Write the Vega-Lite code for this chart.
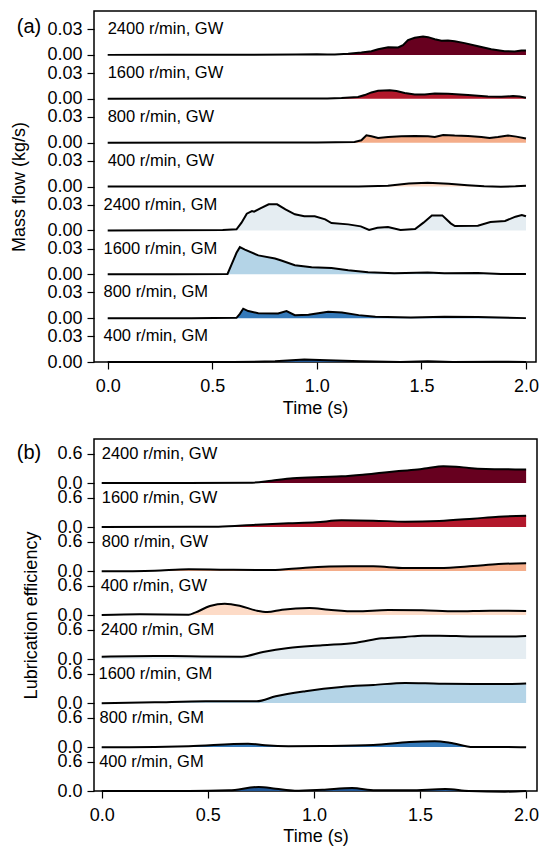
{
  "$schema": "https://vega.github.io/schema/vega-lite/v6.json",
  "background": "white",
  "padding": {"left": 10, "top": 10, "right": 5, "bottom": 5},
  "spacing": 20,
  "config": {
    "font": "Liberation Sans",
    "view": {"stroke": "black", "strokeWidth": 1.5},
    "axis": {"labelFont": "Liberation Sans", "titleFont": "Liberation Sans", "labelColor": "black", "titleColor": "black", "tickColor": "black", "labelFontSize": 18, "titleFontSize": 18, "titleFontWeight": "normal", "tickSize": 7, "tickWidth": 1.2, "grid": false, "domain": false},
    "text": {"font": "Liberation Sans", "color": "black"}
  },
  "datasets": {
    "a": [
      {"s":"2400 r/min, GW","t":0,"v":0},{"s":"2400 r/min, GW","t":0.3,"v":0.0002},{"s":"2400 r/min, GW","t":0.6,"v":0.0002},{"s":"2400 r/min, GW","t":0.9,"v":0.0003},{"s":"2400 r/min, GW","t":1.0,"v":0.0006},{"s":"2400 r/min, GW","t":1.05,"v":0.0004},{"s":"2400 r/min, GW","t":1.086,"v":0.0004},{"s":"2400 r/min, GW","t":1.15,"v":0.0012},{"s":"2400 r/min, GW","t":1.213,"v":0.0027},{"s":"2400 r/min, GW","t":1.261,"v":0.0043},{"s":"2400 r/min, GW","t":1.293,"v":0.0066},{"s":"2400 r/min, GW","t":1.341,"v":0.009},{"s":"2400 r/min, GW","t":1.389,"v":0.0086},{"s":"2400 r/min, GW","t":1.412,"v":0.0113},{"s":"2400 r/min, GW","t":1.436,"v":0.0172},{"s":"2400 r/min, GW","t":1.468,"v":0.0199},{"s":"2400 r/min, GW","t":1.508,"v":0.0214},{"s":"2400 r/min, GW","t":1.532,"v":0.0207},{"s":"2400 r/min, GW","t":1.564,"v":0.0183},{"s":"2400 r/min, GW","t":1.596,"v":0.0164},{"s":"2400 r/min, GW","t":1.627,"v":0.0168},{"s":"2400 r/min, GW","t":1.659,"v":0.016},{"s":"2400 r/min, GW","t":1.707,"v":0.0137},{"s":"2400 r/min, GW","t":1.771,"v":0.0101},{"s":"2400 r/min, GW","t":1.834,"v":0.0066},{"s":"2400 r/min, GW","t":1.898,"v":0.0043},{"s":"2400 r/min, GW","t":1.946,"v":0.0039},{"s":"2400 r/min, GW","t":1.978,"v":0.0051},{"s":"2400 r/min, GW","t":2.0,"v":0.0051},
      {"s":"1600 r/min, GW","t":0,"v":0},{"s":"1600 r/min, GW","t":0.5,"v":0.0002},{"s":"1600 r/min, GW","t":0.83,"v":0.0004},{"s":"1600 r/min, GW","t":1.05,"v":0.0004},{"s":"1600 r/min, GW","t":1.118,"v":0.0008},{"s":"1600 r/min, GW","t":1.197,"v":0.002},{"s":"1600 r/min, GW","t":1.229,"v":0.0043},{"s":"1600 r/min, GW","t":1.261,"v":0.0074},{"s":"1600 r/min, GW","t":1.293,"v":0.0094},{"s":"1600 r/min, GW","t":1.349,"v":0.0098},{"s":"1600 r/min, GW","t":1.381,"v":0.009},{"s":"1600 r/min, GW","t":1.42,"v":0.0066},{"s":"1600 r/min, GW","t":1.468,"v":0.0051},{"s":"1600 r/min, GW","t":1.516,"v":0.0051},{"s":"1600 r/min, GW","t":1.564,"v":0.0062},{"s":"1600 r/min, GW","t":1.627,"v":0.0059},{"s":"1600 r/min, GW","t":1.723,"v":0.0043},{"s":"1600 r/min, GW","t":1.818,"v":0.0027},{"s":"1600 r/min, GW","t":1.882,"v":0.0023},{"s":"1600 r/min, GW","t":1.938,"v":0.0031},{"s":"1600 r/min, GW","t":1.97,"v":0.0027},{"s":"1600 r/min, GW","t":2.0,"v":0.0012},
      {"s":"800 r/min, GW","t":0,"v":0},{"s":"800 r/min, GW","t":0.6,"v":0.0001},{"s":"800 r/min, GW","t":1.0,"v":0.0002},{"s":"800 r/min, GW","t":1.18,"v":0.0008},{"s":"800 r/min, GW","t":1.213,"v":0.0027},{"s":"800 r/min, GW","t":1.237,"v":0.0086},{"s":"800 r/min, GW","t":1.261,"v":0.0074},{"s":"800 r/min, GW","t":1.293,"v":0.0055},{"s":"800 r/min, GW","t":1.341,"v":0.0066},{"s":"800 r/min, GW","t":1.404,"v":0.0074},{"s":"800 r/min, GW","t":1.468,"v":0.0078},{"s":"800 r/min, GW","t":1.532,"v":0.0074},{"s":"800 r/min, GW","t":1.564,"v":0.0066},{"s":"800 r/min, GW","t":1.604,"v":0.009},{"s":"800 r/min, GW","t":1.659,"v":0.0082},{"s":"800 r/min, GW","t":1.723,"v":0.0078},{"s":"800 r/min, GW","t":1.787,"v":0.0066},{"s":"800 r/min, GW","t":1.826,"v":0.0055},{"s":"800 r/min, GW","t":1.866,"v":0.0066},{"s":"800 r/min, GW","t":1.914,"v":0.0082},{"s":"800 r/min, GW","t":1.954,"v":0.007},{"s":"800 r/min, GW","t":2.0,"v":0.0047},
      {"s":"400 r/min, GW","t":0,"v":0},{"s":"400 r/min, GW","t":0.6,"v":0},{"s":"400 r/min, GW","t":1.2,"v":0.0001},{"s":"400 r/min, GW","t":1.34,"v":0.0008},{"s":"400 r/min, GW","t":1.44,"v":0.0035},{"s":"400 r/min, GW","t":1.53,"v":0.0043},{"s":"400 r/min, GW","t":1.63,"v":0.0031},{"s":"400 r/min, GW","t":1.72,"v":0.0016},{"s":"400 r/min, GW","t":1.8,"v":0.0002},{"s":"400 r/min, GW","t":1.88,"v":-0.0002},{"s":"400 r/min, GW","t":1.95,"v":0.0002},{"s":"400 r/min, GW","t":2.0,"v":0.0008},
      {"s":"2400 r/min, GM","t":0,"v":0},{"s":"2400 r/min, GM","t":0.3,"v":0.0001},{"s":"2400 r/min, GM","t":0.55,"v":0.0003},{"s":"2400 r/min, GM","t":0.616,"v":0.0012},{"s":"2400 r/min, GM","t":0.64,"v":0.009},{"s":"2400 r/min, GM","t":0.665,"v":0.0195},{"s":"2400 r/min, GM","t":0.69,"v":0.0226},{"s":"2400 r/min, GM","t":0.7,"v":0.0218},{"s":"2400 r/min, GM","t":0.73,"v":0.0257},{"s":"2400 r/min, GM","t":0.77,"v":0.0304},{"s":"2400 r/min, GM","t":0.81,"v":0.0304},{"s":"2400 r/min, GM","t":0.85,"v":0.0246},{"s":"2400 r/min, GM","t":0.895,"v":0.0187},{"s":"2400 r/min, GM","t":0.94,"v":0.0164},{"s":"2400 r/min, GM","t":0.99,"v":0.0164},{"s":"2400 r/min, GM","t":1.04,"v":0.0129},{"s":"2400 r/min, GM","t":1.07,"v":0.0086},{"s":"2400 r/min, GM","t":1.15,"v":0.007},{"s":"2400 r/min, GM","t":1.21,"v":0.0047},{"s":"2400 r/min, GM","t":1.25,"v":0.0004},{"s":"2400 r/min, GM","t":1.29,"v":0.0031},{"s":"2400 r/min, GM","t":1.34,"v":0.0039},{"s":"2400 r/min, GM","t":1.4,"v":0.0004},{"s":"2400 r/min, GM","t":1.47,"v":0.0016},{"s":"2400 r/min, GM","t":1.51,"v":0.009},{"s":"2400 r/min, GM","t":1.55,"v":0.0175},{"s":"2400 r/min, GM","t":1.6,"v":0.0175},{"s":"2400 r/min, GM","t":1.64,"v":0.0082},{"s":"2400 r/min, GM","t":1.66,"v":0.005},{"s":"2400 r/min, GM","t":1.77,"v":0.0055},{"s":"2400 r/min, GM","t":1.83,"v":0.0098},{"s":"2400 r/min, GM","t":1.9,"v":0.011},{"s":"2400 r/min, GM","t":1.95,"v":0.016},{"s":"2400 r/min, GM","t":1.98,"v":0.018},{"s":"2400 r/min, GM","t":2.0,"v":0.0164},
      {"s":"1600 r/min, GM","t":0,"v":0},{"s":"1600 r/min, GM","t":0.3,"v":0},{"s":"1600 r/min, GM","t":0.573,"v":0.0004},{"s":"1600 r/min, GM","t":0.592,"v":0.0113},{"s":"1600 r/min, GM","t":0.616,"v":0.025},{"s":"1600 r/min, GM","t":0.632,"v":0.0316},{"s":"1600 r/min, GM","t":0.656,"v":0.0288},{"s":"1600 r/min, GM","t":0.72,"v":0.022},{"s":"1600 r/min, GM","t":0.8,"v":0.0183},{"s":"1600 r/min, GM","t":0.83,"v":0.016},{"s":"1600 r/min, GM","t":0.895,"v":0.0105},{"s":"1600 r/min, GM","t":0.975,"v":0.0082},{"s":"1600 r/min, GM","t":1.07,"v":0.0074},{"s":"1600 r/min, GM","t":1.15,"v":0.0047},{"s":"1600 r/min, GM","t":1.245,"v":0.0023},{"s":"1600 r/min, GM","t":1.37,"v":0.0012},{"s":"1600 r/min, GM","t":1.53,"v":0.002},{"s":"1600 r/min, GM","t":1.61,"v":0.0012},{"s":"1600 r/min, GM","t":1.77,"v":0.0016},{"s":"1600 r/min, GM","t":1.88,"v":0.0004},{"s":"1600 r/min, GM","t":2.0,"v":0.0004},
      {"s":"800 r/min, GM","t":0,"v":0},{"s":"800 r/min, GM","t":0.4,"v":0},{"s":"800 r/min, GM","t":0.616,"v":0.0004},{"s":"800 r/min, GM","t":0.632,"v":0.005},{"s":"800 r/min, GM","t":0.648,"v":0.011},{"s":"800 r/min, GM","t":0.672,"v":0.0082},{"s":"800 r/min, GM","t":0.72,"v":0.0058},{"s":"800 r/min, GM","t":0.815,"v":0.0055},{"s":"800 r/min, GM","t":0.855,"v":0.0082},{"s":"800 r/min, GM","t":0.895,"v":0.0035},{"s":"800 r/min, GM","t":0.96,"v":0.004},{"s":"800 r/min, GM","t":1.054,"v":0.0074},{"s":"800 r/min, GM","t":1.12,"v":0.0066},{"s":"800 r/min, GM","t":1.2,"v":0.0035},{"s":"800 r/min, GM","t":1.28,"v":0.0016},{"s":"800 r/min, GM","t":1.45,"v":0.0008},{"s":"800 r/min, GM","t":1.61,"v":0.0016},{"s":"800 r/min, GM","t":1.77,"v":0.0012},{"s":"800 r/min, GM","t":2.0,"v":0},
      {"s":"400 r/min, GM","t":0,"v":0},{"s":"400 r/min, GM","t":0.6,"v":0},{"s":"400 r/min, GM","t":0.8,"v":0.0008},{"s":"400 r/min, GM","t":0.94,"v":0.003},{"s":"400 r/min, GM","t":1.05,"v":0.002},{"s":"400 r/min, GM","t":1.21,"v":0.0008},{"s":"400 r/min, GM","t":1.4,"v":0},{"s":"400 r/min, GM","t":1.53,"v":0.0008},{"s":"400 r/min, GM","t":1.65,"v":0},{"s":"400 r/min, GM","t":1.85,"v":0.0004},{"s":"400 r/min, GM","t":2.0,"v":0}
    ],
    "b": [
      {"s":"2400 r/min, GW","t":0,"v":0},{"s":"2400 r/min, GW","t":0.4,"v":0},{"s":"2400 r/min, GW","t":0.71,"v":0.007},{"s":"2400 r/min, GW","t":0.8,"v":0.048},{"s":"2400 r/min, GW","t":0.9,"v":0.095},{"s":"2400 r/min, GW","t":1.04,"v":0.123},{"s":"2400 r/min, GW","t":1.13,"v":0.136},{"s":"2400 r/min, GW","t":1.23,"v":0.17},{"s":"2400 r/min, GW","t":1.32,"v":0.21},{"s":"2400 r/min, GW","t":1.4,"v":0.245},{"s":"2400 r/min, GW","t":1.5,"v":0.28},{"s":"2400 r/min, GW","t":1.54,"v":0.307},{"s":"2400 r/min, GW","t":1.61,"v":0.34},{"s":"2400 r/min, GW","t":1.67,"v":0.334},{"s":"2400 r/min, GW","t":1.73,"v":0.307},{"s":"2400 r/min, GW","t":1.81,"v":0.286},{"s":"2400 r/min, GW","t":1.9,"v":0.28},{"s":"2400 r/min, GW","t":2.0,"v":0.273},
      {"s":"1600 r/min, GW","t":0,"v":0},{"s":"1600 r/min, GW","t":0.55,"v":0.007},{"s":"1600 r/min, GW","t":0.73,"v":0.048},{"s":"1600 r/min, GW","t":0.88,"v":0.075},{"s":"1600 r/min, GW","t":1.01,"v":0.095},{"s":"1600 r/min, GW","t":1.13,"v":0.136},{"s":"1600 r/min, GW","t":1.28,"v":0.13},{"s":"1600 r/min, GW","t":1.43,"v":0.109},{"s":"1600 r/min, GW","t":1.59,"v":0.123},{"s":"1600 r/min, GW","t":1.75,"v":0.17},{"s":"1600 r/min, GW","t":1.87,"v":0.21},{"s":"1600 r/min, GW","t":2.0,"v":0.232},
      {"s":"800 r/min, GW","t":0,"v":-0.007},{"s":"800 r/min, GW","t":0.25,"v":0.007},{"s":"800 r/min, GW","t":0.41,"v":0.034},{"s":"800 r/min, GW","t":0.57,"v":0.027},{"s":"800 r/min, GW","t":0.8,"v":0.02},{"s":"800 r/min, GW","t":0.96,"v":0.068},{"s":"800 r/min, GW","t":1.17,"v":0.095},{"s":"800 r/min, GW","t":1.28,"v":0.095},{"s":"800 r/min, GW","t":1.43,"v":0.061},{"s":"800 r/min, GW","t":1.59,"v":0.061},{"s":"800 r/min, GW","t":1.75,"v":0.102},{"s":"800 r/min, GW","t":1.87,"v":0.143},{"s":"800 r/min, GW","t":2.0,"v":0.157},
      {"s":"400 r/min, GW","t":0,"v":0},{"s":"400 r/min, GW","t":0.18,"v":0.014},{"s":"400 r/min, GW","t":0.41,"v":0.007},{"s":"400 r/min, GW","t":0.44,"v":0.048},{"s":"400 r/min, GW","t":0.51,"v":0.184},{"s":"400 r/min, GW","t":0.58,"v":0.232},{"s":"400 r/min, GW","t":0.65,"v":0.19},{"s":"400 r/min, GW","t":0.73,"v":0.089},{"s":"400 r/min, GW","t":0.78,"v":0.061},{"s":"400 r/min, GW","t":0.85,"v":0.109},{"s":"400 r/min, GW","t":0.98,"v":0.143},{"s":"400 r/min, GW","t":1.07,"v":0.109},{"s":"400 r/min, GW","t":1.2,"v":0.075},{"s":"400 r/min, GW","t":1.35,"v":0.102},{"s":"400 r/min, GW","t":1.51,"v":0.095},{"s":"400 r/min, GW","t":1.67,"v":0.075},{"s":"400 r/min, GW","t":1.83,"v":0.089},{"s":"400 r/min, GW","t":2.0,"v":0.082},
      {"s":"2400 r/min, GM","t":0,"v":0.048},{"s":"2400 r/min, GM","t":0.25,"v":0.061},{"s":"2400 r/min, GM","t":0.41,"v":0.055},{"s":"2400 r/min, GM","t":0.66,"v":0.048},{"s":"2400 r/min, GM","t":0.76,"v":0.143},{"s":"2400 r/min, GM","t":0.88,"v":0.225},{"s":"2400 r/min, GM","t":1.04,"v":0.28},{"s":"2400 r/min, GM","t":1.2,"v":0.334},{"s":"2400 r/min, GM","t":1.32,"v":0.423},{"s":"2400 r/min, GM","t":1.43,"v":0.45},{"s":"2400 r/min, GM","t":1.51,"v":0.477},{"s":"2400 r/min, GM","t":1.59,"v":0.477},{"s":"2400 r/min, GM","t":1.75,"v":0.457},{"s":"2400 r/min, GM","t":1.9,"v":0.457},{"s":"2400 r/min, GM","t":2.0,"v":0.47},
      {"s":"1600 r/min, GM","t":0,"v":-0.007},{"s":"1600 r/min, GM","t":0.25,"v":0.014},{"s":"1600 r/min, GM","t":0.49,"v":0.034},{"s":"1600 r/min, GM","t":0.73,"v":0.034},{"s":"1600 r/min, GM","t":0.82,"v":0.136},{"s":"1600 r/min, GM","t":0.96,"v":0.24},{"s":"1600 r/min, GM","t":1.13,"v":0.327},{"s":"1600 r/min, GM","t":1.28,"v":0.368},{"s":"1600 r/min, GM","t":1.43,"v":0.41},{"s":"1600 r/min, GM","t":1.59,"v":0.395},{"s":"1600 r/min, GM","t":1.75,"v":0.389},{"s":"1600 r/min, GM","t":1.9,"v":0.389},{"s":"1600 r/min, GM","t":2.0,"v":0.4},
      {"s":"800 r/min, GM","t":0,"v":-0.007},{"s":"800 r/min, GM","t":0.25,"v":0},{"s":"800 r/min, GM","t":0.41,"v":0.014},{"s":"800 r/min, GM","t":0.69,"v":0.068},{"s":"800 r/min, GM","t":0.77,"v":0.034},{"s":"800 r/min, GM","t":0.88,"v":0.014},{"s":"800 r/min, GM","t":1.04,"v":0.02},{"s":"800 r/min, GM","t":1.28,"v":0.041},{"s":"800 r/min, GM","t":1.45,"v":0.102},{"s":"800 r/min, GM","t":1.57,"v":0.116},{"s":"800 r/min, GM","t":1.64,"v":0.089},{"s":"800 r/min, GM","t":1.75,"v":0},{"s":"800 r/min, GM","t":1.9,"v":0},{"s":"800 r/min, GM","t":2.0,"v":-0.007},
      {"s":"400 r/min, GM","t":0,"v":0},{"s":"400 r/min, GM","t":0.41,"v":0},{"s":"400 r/min, GM","t":0.6,"v":0.014},{"s":"400 r/min, GM","t":0.74,"v":0.082},{"s":"400 r/min, GM","t":0.82,"v":0.048},{"s":"400 r/min, GM","t":0.91,"v":0.007},{"s":"400 r/min, GM","t":1.04,"v":0.027},{"s":"400 r/min, GM","t":1.18,"v":0.061},{"s":"400 r/min, GM","t":1.29,"v":0.014},{"s":"400 r/min, GM","t":1.45,"v":0.014},{"s":"400 r/min, GM","t":1.62,"v":0.041},{"s":"400 r/min, GM","t":1.73,"v":0},{"s":"400 r/min, GM","t":1.9,"v":-0.014},{"s":"400 r/min, GM","t":2.0,"v":0}
    ]
  },
  "vconcat": [
    {
      "width": 442,
      "height": 351,
      "data": {"name": "a"},
      "encoding": {
        "x": {"field": "t", "type": "quantitative", "scale": {"domain": [-0.0655, 2.048], "nice": false, "zero": false}, "axis": {"values": [0, 0.5, 1, 1.5, 2], "format": ".1f", "title": "Time (s)", "labelPadding": 8, "titlePadding": 4, "labelFlush": false}}
      },
      "layer": [
        {"transform": [{"filter": {"field": "s", "equal": "2400 r/min, GW"}}],
         "encoding": {"y": {"field": "v", "type": "quantitative", "stack": null, "scale": {"domain": [-0.3584, 0.0512], "nice": false, "zero": false}, "axis": {"orient": "left", "values": [0, 0.03], "format": ".2f", "title": "Mass flow (kg/s)", "titlePadding": 18, "labelPadding": 5}}},
         "layer": [
           {"mark": {"type": "area", "color": "#67001f", "opacity": 1}},
           {"mark": {"type": "line", "color": "black", "strokeWidth": 2}},
           {"transform": [{"filter": {"field": "t", "equal": 0}}], "mark": {"type": "text", "align": "left", "baseline": "middle", "fontSize": 16.5, "color": "black"}, "encoding": {"text": {"field": "s"}, "x": {"datum": 0, "type": "quantitative"}, "y": {"datum": 0.03, "type": "quantitative"}}},
           {"transform": [{"filter": {"field": "t", "equal": 0}}], "mark": {"type": "text", "text": "(a)", "align": "right", "baseline": "middle", "fontSize": 20, "color": "black"}, "encoding": {"x": {"datum": -0.318, "type": "quantitative"}, "y": {"datum": 0.033, "type": "quantitative"}}}
         ]},
        {"transform": [{"filter": {"field": "s", "equal": "1600 r/min, GW"}}],
         "encoding": {"y": {"field": "v", "type": "quantitative", "stack": null, "scale": {"domain": [-0.3072, 0.1024], "nice": false, "zero": false}, "axis": {"orient": "left", "values": [0, 0.03], "format": ".2f", "title": null, "labelPadding": 5}}},
         "layer": [
           {"mark": {"type": "area", "color": "#b2182b", "opacity": 1}},
           {"mark": {"type": "line", "color": "black", "strokeWidth": 2}},
           {"transform": [{"filter": {"field": "t", "equal": 0}}], "mark": {"type": "text", "align": "left", "baseline": "middle", "fontSize": 16.5, "color": "black"}, "encoding": {"text": {"field": "s"}, "x": {"datum": 0, "type": "quantitative"}, "y": {"datum": 0.03, "type": "quantitative"}}}
         ]},
        {"transform": [{"filter": {"field": "s", "equal": "800 r/min, GW"}}],
         "encoding": {"y": {"field": "v", "type": "quantitative", "stack": null, "scale": {"domain": [-0.256, 0.1536], "nice": false, "zero": false}, "axis": {"orient": "left", "values": [0, 0.03], "format": ".2f", "title": null, "labelPadding": 5}}},
         "layer": [
           {"mark": {"type": "area", "color": "#f4ad8a", "opacity": 1}},
           {"mark": {"type": "line", "color": "black", "strokeWidth": 2}},
           {"transform": [{"filter": {"field": "t", "equal": 0}}], "mark": {"type": "text", "align": "left", "baseline": "middle", "fontSize": 16.5, "color": "black"}, "encoding": {"text": {"field": "s"}, "x": {"datum": 0, "type": "quantitative"}, "y": {"datum": 0.03, "type": "quantitative"}}}
         ]},
        {"transform": [{"filter": {"field": "s", "equal": "400 r/min, GW"}}],
         "encoding": {"y": {"field": "v", "type": "quantitative", "stack": null, "scale": {"domain": [-0.2048, 0.2048], "nice": false, "zero": false}, "axis": {"orient": "left", "values": [0, 0.03], "format": ".2f", "title": null, "labelPadding": 5}}},
         "layer": [
           {"mark": {"type": "area", "color": "#fddbc7", "opacity": 1}},
           {"mark": {"type": "line", "color": "black", "strokeWidth": 2}},
           {"transform": [{"filter": {"field": "t", "equal": 0}}], "mark": {"type": "text", "align": "left", "baseline": "middle", "fontSize": 16.5, "color": "black"}, "encoding": {"text": {"field": "s"}, "x": {"datum": 0, "type": "quantitative"}, "y": {"datum": 0.03, "type": "quantitative"}}}
         ]},
        {"transform": [{"filter": {"field": "s", "equal": "2400 r/min, GM"}}],
         "encoding": {"y": {"field": "v", "type": "quantitative", "stack": null, "scale": {"domain": [-0.1536, 0.256], "nice": false, "zero": false}, "axis": {"orient": "left", "values": [0, 0.03], "format": ".2f", "title": null, "labelPadding": 5}}},
         "layer": [
           {"mark": {"type": "area", "color": "#e5edf2", "opacity": 1}},
           {"mark": {"type": "line", "color": "black", "strokeWidth": 2}},
           {"transform": [{"filter": {"field": "t", "equal": 0}}], "mark": {"type": "text", "align": "left", "baseline": "middle", "fontSize": 16.5, "color": "black"}, "encoding": {"text": {"field": "s"}, "x": {"datum": -0.02, "type": "quantitative"}, "y": {"datum": 0.03, "type": "quantitative"}}}
         ]},
        {"transform": [{"filter": {"field": "s", "equal": "1600 r/min, GM"}}],
         "encoding": {"y": {"field": "v", "type": "quantitative", "stack": null, "scale": {"domain": [-0.1024, 0.3072], "nice": false, "zero": false}, "axis": {"orient": "left", "values": [0, 0.03], "format": ".2f", "title": null, "labelPadding": 5}}},
         "layer": [
           {"mark": {"type": "area", "color": "#b4d4e7", "opacity": 1}},
           {"mark": {"type": "line", "color": "black", "strokeWidth": 2}},
           {"transform": [{"filter": {"field": "t", "equal": 0}}], "mark": {"type": "text", "align": "left", "baseline": "middle", "fontSize": 16.5, "color": "black"}, "encoding": {"text": {"field": "s"}, "x": {"datum": -0.02, "type": "quantitative"}, "y": {"datum": 0.03, "type": "quantitative"}}}
         ]},
        {"transform": [{"filter": {"field": "s", "equal": "800 r/min, GM"}}],
         "encoding": {"y": {"field": "v", "type": "quantitative", "stack": null, "scale": {"domain": [-0.0512, 0.3584], "nice": false, "zero": false}, "axis": {"orient": "left", "values": [0, 0.03], "format": ".2f", "title": null, "labelPadding": 5}}},
         "layer": [
           {"mark": {"type": "area", "color": "#3479b9", "opacity": 1}},
           {"mark": {"type": "line", "color": "black", "strokeWidth": 2}},
           {"transform": [{"filter": {"field": "t", "equal": 0}}], "mark": {"type": "text", "align": "left", "baseline": "middle", "fontSize": 16.5, "color": "black"}, "encoding": {"text": {"field": "s"}, "x": {"datum": -0.02, "type": "quantitative"}, "y": {"datum": 0.03, "type": "quantitative"}}}
         ]},
        {"transform": [{"filter": {"field": "s", "equal": "400 r/min, GM"}}],
         "encoding": {"y": {"field": "v", "type": "quantitative", "stack": null, "scale": {"domain": [0, 0.4096], "nice": false, "zero": false}, "axis": {"orient": "left", "values": [0, 0.03], "format": ".2f", "title": null, "labelPadding": 5}}},
         "layer": [
           {"mark": {"type": "area", "color": "#1f5595", "opacity": 1}},
           {"mark": {"type": "line", "color": "black", "strokeWidth": 2}},
           {"transform": [{"filter": {"field": "t", "equal": 0}}], "mark": {"type": "text", "align": "left", "baseline": "middle", "fontSize": 16.5, "color": "black"}, "encoding": {"text": {"field": "s"}, "x": {"datum": -0.02, "type": "quantitative"}, "y": {"datum": 0.03, "type": "quantitative"}}}
         ]}
      ],
      "resolve": {"scale": {"y": "independent"}, "axis": {"y": "independent"}}
    },
    {
      "width": 443,
      "height": 352,
      "data": {"name": "b"},
      "encoding": {
        "x": {"field": "t", "type": "quantitative", "scale": {"domain": [-0.0363, 2.0513], "nice": false, "zero": false}, "axis": {"values": [0, 0.5, 1, 1.5, 2], "format": ".1f", "title": "Time (s)", "labelPadding": 8, "titlePadding": 3, "labelFlush": false}}
      },
      "layer": [
        {"transform": [{"filter": {"field": "s", "equal": "2400 r/min, GW"}}],
         "encoding": {"y": {"field": "v", "type": "quantitative", "stack": null, "scale": {"domain": [-6.286, 0.898], "nice": false, "zero": false}, "axis": {"orient": "left", "values": [0, 0.6], "format": ".1f", "title": "Lubrication efficiency", "titlePadding": 16, "labelPadding": 5}}},
         "layer": [
           {"mark": {"type": "area", "color": "#67001f", "opacity": 1, "interpolate": "monotone"}},
           {"mark": {"type": "line", "color": "black", "strokeWidth": 2, "interpolate": "monotone"}},
           {"transform": [{"filter": {"field": "t", "equal": 0}}], "mark": {"type": "text", "align": "left", "baseline": "middle", "fontSize": 16.5, "color": "black"}, "encoding": {"text": {"field": "s"}, "x": {"datum": 0, "type": "quantitative"}, "y": {"datum": 0.6, "type": "quantitative"}}},
           {"transform": [{"filter": {"field": "t", "equal": 0}}], "mark": {"type": "text", "text": "(b)", "align": "right", "baseline": "middle", "fontSize": 20, "color": "black"}, "encoding": {"x": {"datum": -0.285, "type": "quantitative"}, "y": {"datum": 0.62, "type": "quantitative"}}}
         ]},
        {"transform": [{"filter": {"field": "s", "equal": "1600 r/min, GW"}}],
         "encoding": {"y": {"field": "v", "type": "quantitative", "stack": null, "scale": {"domain": [-5.388, 1.796], "nice": false, "zero": false}, "axis": {"orient": "left", "values": [0, 0.6], "format": ".1f", "title": null, "labelPadding": 5}}},
         "layer": [
           {"mark": {"type": "area", "color": "#b2182b", "opacity": 1, "interpolate": "monotone"}},
           {"mark": {"type": "line", "color": "black", "strokeWidth": 2, "interpolate": "monotone"}},
           {"transform": [{"filter": {"field": "t", "equal": 0}}], "mark": {"type": "text", "align": "left", "baseline": "middle", "fontSize": 16.5, "color": "black"}, "encoding": {"text": {"field": "s"}, "x": {"datum": 0, "type": "quantitative"}, "y": {"datum": 0.6, "type": "quantitative"}}}
         ]},
        {"transform": [{"filter": {"field": "s", "equal": "800 r/min, GW"}}],
         "encoding": {"y": {"field": "v", "type": "quantitative", "stack": null, "scale": {"domain": [-4.49, 2.694], "nice": false, "zero": false}, "axis": {"orient": "left", "values": [0, 0.6], "format": ".1f", "title": null, "labelPadding": 5}}},
         "layer": [
           {"mark": {"type": "area", "color": "#f4ad8a", "opacity": 1, "interpolate": "monotone"}},
           {"mark": {"type": "line", "color": "black", "strokeWidth": 2, "interpolate": "monotone"}},
           {"transform": [{"filter": {"field": "t", "equal": 0}}], "mark": {"type": "text", "align": "left", "baseline": "middle", "fontSize": 16.5, "color": "black"}, "encoding": {"text": {"field": "s"}, "x": {"datum": 0, "type": "quantitative"}, "y": {"datum": 0.6, "type": "quantitative"}}}
         ]},
        {"transform": [{"filter": {"field": "s", "equal": "400 r/min, GW"}}],
         "encoding": {"y": {"field": "v", "type": "quantitative", "stack": null, "scale": {"domain": [-3.592, 3.592], "nice": false, "zero": false}, "axis": {"orient": "left", "values": [0, 0.6], "format": ".1f", "title": null, "labelPadding": 5}}},
         "layer": [
           {"mark": {"type": "area", "color": "#fddbc7", "opacity": 1, "interpolate": "monotone"}},
           {"mark": {"type": "line", "color": "black", "strokeWidth": 2, "interpolate": "monotone"}},
           {"transform": [{"filter": {"field": "t", "equal": 0}}], "mark": {"type": "text", "align": "left", "baseline": "middle", "fontSize": 16.5, "color": "black"}, "encoding": {"text": {"field": "s"}, "x": {"datum": -0.005, "type": "quantitative"}, "y": {"datum": 0.6, "type": "quantitative"}}}
         ]},
        {"transform": [{"filter": {"field": "s", "equal": "2400 r/min, GM"}}],
         "encoding": {"y": {"field": "v", "type": "quantitative", "stack": null, "scale": {"domain": [-2.694, 4.49], "nice": false, "zero": false}, "axis": {"orient": "left", "values": [0, 0.6], "format": ".1f", "title": null, "labelPadding": 5}}},
         "layer": [
           {"mark": {"type": "area", "color": "#e5edf2", "opacity": 1, "interpolate": "monotone"}},
           {"mark": {"type": "line", "color": "black", "strokeWidth": 2, "interpolate": "monotone"}},
           {"transform": [{"filter": {"field": "t", "equal": 0}}], "mark": {"type": "text", "align": "left", "baseline": "middle", "fontSize": 16.5, "color": "black"}, "encoding": {"text": {"field": "s"}, "x": {"datum": -0.005, "type": "quantitative"}, "y": {"datum": 0.6, "type": "quantitative"}}}
         ]},
        {"transform": [{"filter": {"field": "s", "equal": "1600 r/min, GM"}}],
         "encoding": {"y": {"field": "v", "type": "quantitative", "stack": null, "scale": {"domain": [-1.796, 5.388], "nice": false, "zero": false}, "axis": {"orient": "left", "values": [0, 0.6], "format": ".1f", "title": null, "labelPadding": 5}}},
         "layer": [
           {"mark": {"type": "area", "color": "#b4d4e7", "opacity": 1, "interpolate": "monotone"}},
           {"mark": {"type": "line", "color": "black", "strokeWidth": 2, "interpolate": "monotone"}},
           {"transform": [{"filter": {"field": "t", "equal": 0}}], "mark": {"type": "text", "align": "left", "baseline": "middle", "fontSize": 16.5, "color": "black"}, "encoding": {"text": {"field": "s"}, "x": {"datum": -0.015, "type": "quantitative"}, "y": {"datum": 0.6, "type": "quantitative"}}}
         ]},
        {"transform": [{"filter": {"field": "s", "equal": "800 r/min, GM"}}],
         "encoding": {"y": {"field": "v", "type": "quantitative", "stack": null, "scale": {"domain": [-0.898, 6.286], "nice": false, "zero": false}, "axis": {"orient": "left", "values": [0, 0.6], "format": ".1f", "title": null, "labelPadding": 5}}},
         "layer": [
           {"mark": {"type": "area", "color": "#3479b9", "opacity": 1, "interpolate": "monotone"}},
           {"mark": {"type": "line", "color": "black", "strokeWidth": 2, "interpolate": "monotone"}},
           {"transform": [{"filter": {"field": "t", "equal": 0}}], "mark": {"type": "text", "align": "left", "baseline": "middle", "fontSize": 16.5, "color": "black"}, "encoding": {"text": {"field": "s"}, "x": {"datum": -0.01, "type": "quantitative"}, "y": {"datum": 0.6, "type": "quantitative"}}}
         ]},
        {"transform": [{"filter": {"field": "s", "equal": "400 r/min, GM"}}],
         "encoding": {"y": {"field": "v", "type": "quantitative", "stack": null, "scale": {"domain": [0, 7.184], "nice": false, "zero": false}, "axis": {"orient": "left", "values": [0, 0.6], "format": ".1f", "title": null, "labelPadding": 5}}},
         "layer": [
           {"mark": {"type": "area", "color": "#1f5595", "opacity": 1, "interpolate": "monotone"}},
           {"mark": {"type": "line", "color": "black", "strokeWidth": 2, "interpolate": "monotone"}},
           {"transform": [{"filter": {"field": "t", "equal": 0}}], "mark": {"type": "text", "align": "left", "baseline": "middle", "fontSize": 16.5, "color": "black"}, "encoding": {"text": {"field": "s"}, "x": {"datum": -0.012, "type": "quantitative"}, "y": {"datum": 0.6, "type": "quantitative"}}}
         ]}
      ],
      "resolve": {"scale": {"y": "independent"}, "axis": {"y": "independent"}}
    }
  ]
}
